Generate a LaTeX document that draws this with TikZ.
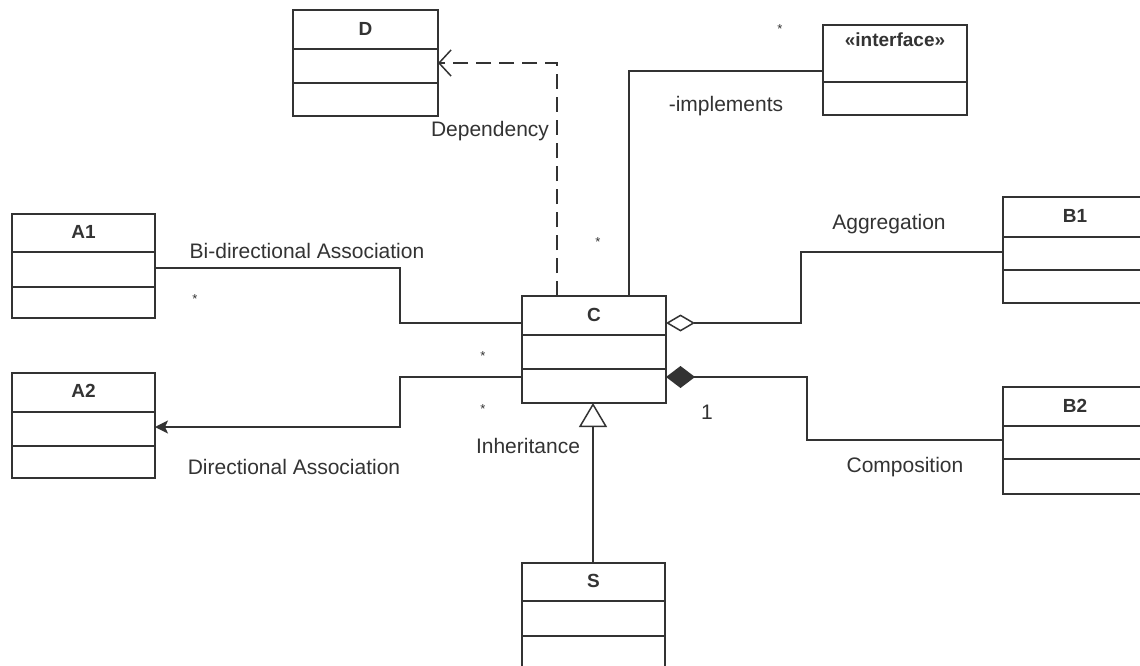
\documentclass[tikz,border=0pt]{standalone}
\usepackage{fontspec}
\setmainfont{Liberation Sans}
\usetikzlibrary{arrows.meta,calc}
\definecolor{ink}{HTML}{333333}
\tikzset{
  classframe/.style={draw=ink, line width=1.6pt, fill=white, inner sep=0pt, outer sep=0pt},
  divider/.style={draw=ink, line width=1.6pt},
  classname/.style={font=\bfseries\fontsize{19}{21}\selectfont, text=ink, inner sep=0pt},
  conn/.style={draw=ink, line width=1.5pt},
  depline/.style={conn, dash pattern=on 15pt off 8pt},
  lbl/.style={font=\fontsize{21}{24}\selectfont, text=ink, inner sep=0pt},
  mult/.style={font=\fontsize{13}{13}\selectfont, text=ink, inner sep=0pt},
}
% \classbox{name}{left}{top}{right}{bottom}{divider ys}{title y}{title}
\newcommand\classbox[8]{%
  \node[classframe, minimum width={#4-#2}, minimum height={#5-#3}, anchor=north west] (#1) at (#2,#3) {};
  \foreach \yy in {#6}{\draw[divider] (#2,\yy) -- (#4,\yy);}
  \node[classname] (#1-name) at ({(#2+#4)/2},#7) {#8};
}
\begin{document}
\begin{tikzpicture}[x=1pt,y=-1pt]
  \useasboundingbox (0,0) rectangle (1140,666);
  \fill[white] (0,0) rectangle (1140,666);
  \clip (0,0) rectangle (1140,666);

  % classes
  \classbox{D}{293}{10}{438}{116}{49,83}{29}{D}
  \classbox{I}{823}{25}{967}{115}{82}{40}{«interface»}
  \classbox{A1}{12}{214}{155}{318}{252,287}{232}{A1}
  \classbox{A2}{12}{373}{155}{478}{412,446}{391}{A2}
  \classbox{C}{522}{296}{666}{403}{335,369}{315}{C}
  \classbox{B1}{1003}{197}{1147}{303}{237,270}{216}{B1}
  \classbox{B2}{1003}{387}{1147}{494}{426,459}{406}{B2}
  \classbox{S}{522}{563}{665}{675}{601,636}{581}{S}

  % dependency
  \draw[depline, -{Straight Barb[length=12pt, width=26pt]}]
    (C.north -| 557,0) -- (557,63) -- (D.east |- 0,63);
  \node[lbl] (depl) at (490,131) {Dependency};

  % realization of the interface
  \draw[conn] (C.north -| 629,0) -- (629,71) -- (I.west |- 0,71);
  \node[lbl] (impl) at (726,106) {-implements};
  \node[mult] (m1) at (780,29) {*};
  \node[mult] (m2) at (598,242) {*};

  % bi-directional association
  \draw[conn] (A1.east |- 0,268) -- (400,268) -- (400,323) -- (C.west |- 0,323);
  \node[lbl] (bil) at (307,251) {Bi-directional Association};
  \node[mult] (m3) at (195,299) {*};
  \node[mult] (m4) at (483,356) {*};

  % directional association
  \draw[conn, -{Stealth[length=13pt, width=13pt, inset=3pt]}]
    (C.west |- 0,377) -- (400,377) -- (400,427) -- (A2.east |- 0,427);
  \node[lbl] (dirl) at (294,467) {Directional Association};
  \node[mult] (m5) at (483,409) {*};

  % aggregation
  \draw[conn, {Diamond[open, length=29pt, width=17pt]}-]
    (C.east |- 0,323) -- (801,323) -- (801,252) -- (B1.west |- 0,252);
  \node[lbl] (aggl) at (889,224) {Aggregation};

  % composition
  \draw[conn, {Diamond[length=29pt, width=22pt]}-]
    (C.east |- 0,377) -- (807,377) -- (807,440) -- (B2.west |- 0,440);
  \node[lbl] (compl) at (905,467) {Composition};
  \node[lbl] (one) at (707,412) {1};

  % inheritance
  \draw[conn, -{Triangle[open, length=24pt, width=28pt]}]
    (S.north -| 593,0) -- (C.south -| 593,0);
  \node[lbl] (inhl) at (528,446) {Inheritance};
\end{tikzpicture}
\end{document}
